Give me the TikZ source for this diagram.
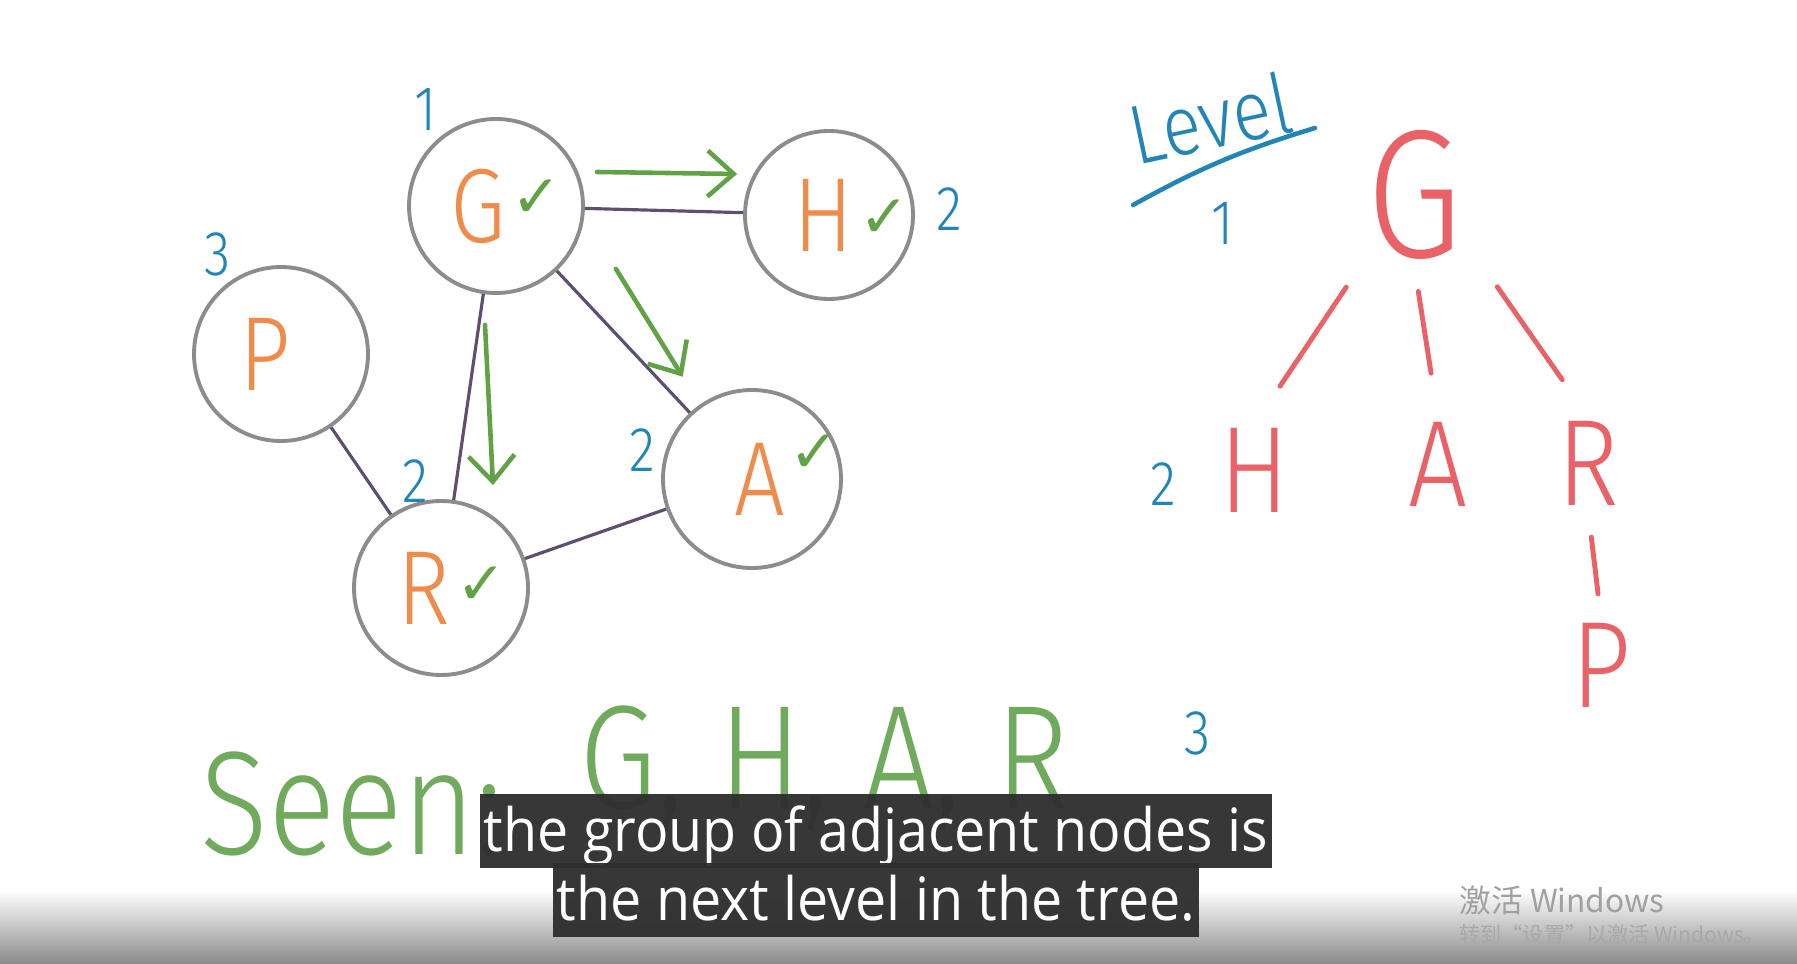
\documentclass[tikz,border=0pt]{standalone}
\usepackage{fontspec}
\usetikzlibrary{arrows.meta}
\IfFontExistsTF{Fira Sans Light}
  {\newfontfamily\handfont{Fira Sans Light}[FakeStretch=0.85]}
  {\newfontfamily\handfont{Fira Sans}[FakeStretch=0.85]}
\newfontfamily\markfont{DejaVu Sans}
\newfontfamily\capfont{Open Sans}[FakeStretch=0.93]
\newfontfamily\cjkfont{Noto Sans CJK SC}
\definecolor{circGray}{RGB}{140,140,140}
\definecolor{handOrange}{RGB}{240,140,75}
\definecolor{edgePurple}{RGB}{95,78,112}
\definecolor{tickGreen}{RGB}{98,162,70}
\definecolor{seenGreen}{RGB}{112,170,92}
\definecolor{numBlue}{RGB}{35,132,182}
\definecolor{treeRed}{RGB}{232,98,104}
\definecolor{capBg}{RGB}{45,45,45}
\definecolor{midGray}{RGB}{218,218,218}
\definecolor{botGray}{RGB}{138,138,138}
\definecolor{wmGray}{RGB}{160,160,160}
\definecolor{wmGrayB}{RGB}{168,168,168}
\newcommand{\fsz}[1]{\fontsize{#1}{#1}\selectfont}
\newcommand{\chkmk}[1][4pt]{\kern1.5pt\smash{\raisebox{#1}{\markfont\fsz{17}\color{tickGreen}✓}}}
% letter (and tick) shifted inside its circle without growing it
\newcommand{\inCirc}[2]{\makebox[0pt]{\hspace{#1}#2}}
\begin{document}
\begin{tikzpicture}[x=0.1mm,y=-0.1mm,
    gNode/.style={circle,draw=circGray,line width=1.1pt,minimum size=17.4mm,inner sep=0pt,font=\handfont\fsz{30},text=handOrange},
    gEdge/.style={draw=edgePurple,line width=0.9pt},
    gArr/.style={->,>={Straight Barb[length=2.6mm,width=4.6mm]},draw=tickGreen,line width=1.3pt,line cap=round},
    numLbl/.style={text=numBlue,font=\handfont\fsz{18}},
    tNode/.style={text=treeRed,font=\handfont\fsz{35},inner sep=1pt},
    tLine/.style={draw=treeRed,line width=1.4pt,line cap=round,shorten <=2.8mm,shorten >=4.5mm},
    seenTxt/.style={text=seenGreen,font=\handfont\fsz{42},inner sep=0pt},
    capBox/.style={fill=capBg,fill opacity=0.95,text opacity=1,text=white,font=\capfont\fsz{17},inner xsep=0.4mm,inner ysep=0pt,text height=5.7mm,text depth=1.7mm},
    wmText/.style={anchor=west,inner sep=0pt},
]
\useasboundingbox (0,0) rectangle (1797,964);
\fill[white] (0,0) rectangle (1797,964);
\shade[top color=white,middle color=midGray,bottom color=botGray] (0,890) rectangle (1797,964);

% graph
\node[gNode] (G) at (496,206) {\inCirc{2mm}{G\chkmk[7pt]}};
\node[gNode,minimum size=16.8mm] (H) at (829,215) {\inCirc{4.5mm}{H\chkmk}};
\node[gNode] (P) at (281,354) {\inCirc{-3.2mm}{P}};
\node[gNode] (R) at (441,588) {\inCirc{2.2mm}{R\chkmk[5.5pt]}};
\node[gNode,minimum size=17.8mm] (A) at (752,479) {\inCirc{7mm}{A\chkmk[12pt]}};
\draw[gEdge] (G) -- (H);
\draw[gEdge] (G) -- (R);
\draw[gEdge] (G) -- (A);
\draw[gEdge] (P) -- (R);
\draw[gEdge] (R) -- (A);
% visiting order
\draw[gArr] ([xshift=1.2mm,yshift=3.4mm]G.east) -- ([xshift=-0.6mm,yshift=4.1mm]H.west);
\draw[gArr] ([xshift=-1.1mm,yshift=-3mm]G.south) -- ([xshift=5.2mm,yshift=1.4mm]R.north);
\draw[gArr] ([xshift=5.7mm]G.-45) -- ([xshift=-0.5mm,yshift=3.8mm]A.135);
\node[numLbl] (nG) at (426,109) {1};
\node[numLbl] (nH) at (949,209) {2};
\node[numLbl] (nP) at (218,254) {3};
\node[numLbl] (nR) at (415,481) {2};
\node[numLbl] (nA) at (642,450) {2};

% tree by level
\node[numLbl,font=\handfont\fsz{24},rotate=12] (lvl) at (1210,118) {Level};
\draw[numBlue,line width=1.3pt,line cap=round] ([shift={(-77,87)}]lvl.center) to[bend left=6] ([shift={(105,10)}]lvl.center);
\node[numLbl] (l1) at (1223,223) {1};
\node[numLbl] (l2) at (1163,484) {2};
\node[numLbl] (l3) at (1198,733) {3};
\node[tNode,font=\handfont\fsz{52}] (tG) at (1414,195) {G};
\node[tNode] (tH) at (1255,470) {H};
\node[tNode] (tA) at (1438,464) {A};
\node[tNode] (tR) at (1588,463) {R};
\node[tNode] (tP) at (1601,665) {P};
\draw[tLine] (tG.south west) -- (tH.north);
\draw[tLine] (tG.south) -- (tA.north);
\draw[tLine] ([xshift=1.5mm]tG.south east) -- (tR.north);
\draw[tLine,shorten >=2.5mm] (tR.south) -- (tP.north);

% seen list
\node[seenTxt,anchor=base west] (seen) at (200,854) {Seen:};
\node[seenTxt,anchor=base west] (seenList) at (579,808) {G, H, A, R};

% captions
\node[capBox] (cap1) at (876,831) {the group of adjacent nodes is};
\node[capBox,anchor=north] (cap2) at ([yshift=0.6mm]cap1.south) {the next level in the tree.};
\node[wmText,text=wmGray,font=\cjkfont\fsz{9}] (wm1) at (1459,900) {激活 Windows};
\node[wmText,text=wmGrayB,font=\cjkfont\fsz{6}] (wm2) at (1459,934) {转到“设置”以激活 Windows。};
\end{tikzpicture}
\end{document}
